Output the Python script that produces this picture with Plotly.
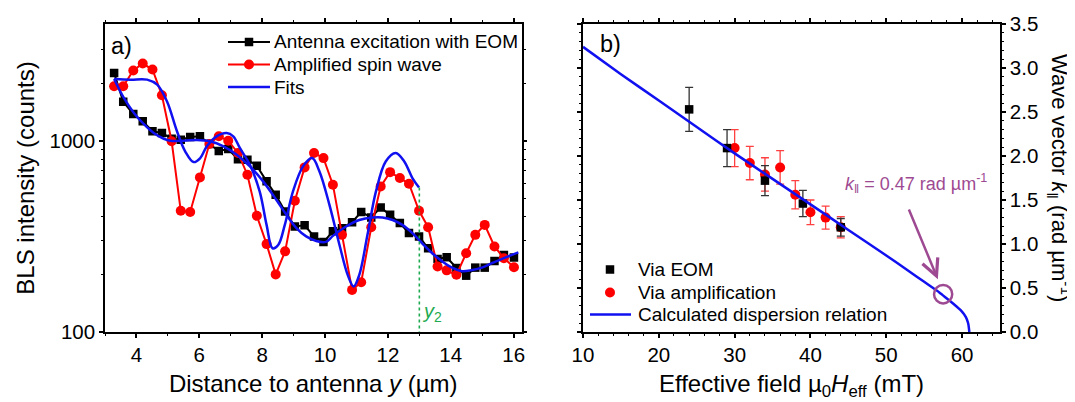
import math
import plotly.graph_objects as go

# ---------------- Panel a) data ----------------
y_pos = [3.29, 3.58, 3.90, 4.20, 4.51, 4.81, 5.12, 5.41, 5.71, 6.02, 6.32, 6.62, 6.92, 7.23,
         7.53, 7.83, 8.14, 8.43, 8.73, 9.04, 9.35, 9.65, 9.95, 10.25, 10.54, 10.86, 11.15,
         11.47, 11.77, 12.07, 12.38, 12.67, 12.99, 13.28, 13.58, 13.87, 14.18, 14.49, 14.78,
         15.08, 15.39, 15.69, 16.01]
eom_counts = [2258, 1597, 1380, 1263, 1120, 1097, 1024, 1012, 1046, 1054, 961, 883, 905, 800,
              796, 740, 613, 521, 427, 356, 361, 316, 295, 336, 349, 375, 424,
              397, 448, 410, 371, 329, 316, 274, 241, 246, 216, 197, 217,
              217, 235, 253, 245]
amp_counts = [1927, 1927, 2327, 2531, 2355, 1729, 993, 430, 424, 643, 961, 1054, 1000, 863,
              664, 405, 288, 200, 264, 485, 725, 863, 811, 589, 322, 166, 182,
              353, 577, 685, 638, 596, 430, 353, 220, 210, 199, 258, 322,
              363, 280, 243, 218]

fit_amp_y = [3.29, 3.81, 4.34, 4.66, 4.97, 5.29, 5.55, 5.82, 6.03, 6.24, 6.55, 6.87, 7.08, 7.29,
             7.61, 7.92, 8.14, 8.33, 8.51, 8.72, 8.98, 9.30, 9.59, 9.82, 10.14, 10.46, 10.72,
             10.91, 11.09, 11.35, 11.62, 11.93, 12.25, 12.52, 12.78, 12.99]
fit_amp_c = [2103, 2085, 2085, 1963, 1607, 1120, 880, 773, 811, 935, 1054, 1097, 1054, 916,
             748, 543, 363, 274, 285, 363, 543, 734, 811, 692, 462, 285, 199,
             173, 199, 322, 543, 779, 863, 779, 638, 570]

fit_eom_y = [3.29, 3.60, 3.92, 4.23, 4.55, 4.87, 5.08, 5.50, 5.92, 6.34, 6.77, 7.19, 7.61, 8.03,
             8.45, 8.77, 9.09, 9.40, 9.72, 10.03, 10.25, 10.67, 11.09, 11.51, 11.83, 12.15,
             12.46, 12.78, 13.09, 13.41, 13.73, 14.04, 14.36, 14.68, 14.99, 15.31, 15.73, 16.15]
fit_eom_c = [2103, 1674, 1396, 1223, 1097, 1024, 1000, 1000, 1008, 993, 935, 845, 734, 613,
             491, 410, 349, 316, 299, 296, 318, 356, 385, 397, 397, 385,
             363, 329, 291, 258, 234, 217, 208, 211, 217, 229, 245, 261]

y2_pos = [13.0, 13.0]
y2_counts = [570, 100]

left_yticks = [100, 1000]
left_yticktext = ["100", "1000"]
left_yminor = [200, 300, 400, 500, 600, 700, 800, 900, 2000, 3000]

legend_a_labels = ["Antenna excitation with EOM", "Amplified spin wave", "Fits"]
legend_b_labels = ["Via EOM", "Via amplification", "Calculated dispersion relation"]

# ---------------- Panel b) data ----------------
H_eom = [24, 29, 34, 39, 44]
k_eom = [2.53, 2.09, 1.72, 1.46, 1.19]
err_eom = [0.25, 0.21, 0.17, 0.15, 0.10]

H_amp = [30, 32, 34, 36, 38, 40, 42, 44]
k_amp = [2.09, 1.92, 1.79, 1.87, 1.56, 1.36, 1.30, 1.19]
err_amp = [0.21, 0.19, 0.19, 0.19, 0.16, 0.14, 0.13, 0.12]

H_calc = [10, 15, 20, 25, 30, 35, 40, 45, 50, 53, 55, 57, 58, 59, 59.9, 60.5, 60.8, 60.92, 60.95]
k_calc = [3.24, 2.93, 2.63, 2.33, 2.03, 1.74, 1.45, 1.16, 0.87, 0.69, 0.57, 0.45, 0.38, 0.31,
          0.24, 0.17, 0.10, 0.03, 0.0]

mark_H = 57.5
mark_k = 0.43

FONT = "Liberation Sans, Arial, sans-serif"
BLUE = "#1010F0"
RED = "#FF0000"
PURPLE = "#9E4A92"
GREEN = "#1EAA50"

W, H = 1075, 402
ML, MR, MT, MB = 97, 83, 16, 78
PW = W - ML - MR
PH = H - MT - MB


def px2x(px):
    return (px - ML) / PW


def py2y(py):
    return 1 - (py - MT) / PH


fig = go.Figure()

# Panel a traces
fig.add_trace(go.Scatter(x=y_pos, y=eom_counts, mode="lines+markers", name=legend_a_labels[0],
                         line=dict(color="black", width=2), marker=dict(symbol="square", size=8.5, color="black"),
                         xaxis="x", yaxis="y"))
fig.add_trace(go.Scatter(x=y_pos, y=amp_counts, mode="lines+markers", name=legend_a_labels[1],
                         line=dict(color=RED, width=2), marker=dict(symbol="circle", size=10, color=RED),
                         xaxis="x", yaxis="y"))
fig.add_trace(go.Scatter(x=fit_eom_y, y=fit_eom_c, mode="lines", name=legend_a_labels[2],
                         line=dict(color=BLUE, width=2.5, shape="spline", smoothing=1.0),
                         xaxis="x", yaxis="y"))
fig.add_trace(go.Scatter(x=fit_amp_y, y=fit_amp_c, mode="lines", name=legend_a_labels[2],
                         line=dict(color=BLUE, width=2.5, shape="spline", smoothing=1.0),
                         xaxis="x", yaxis="y"))
fig.add_trace(go.Scatter(x=y2_pos, y=y2_counts, mode="lines", name="y2",
                         line=dict(color=GREEN, width=1.6, dash="dot"), xaxis="x", yaxis="y"))

# Panel b traces
fig.add_trace(go.Scatter(x=H_amp, y=k_amp, mode="markers", name=legend_b_labels[1],
                         marker=dict(symbol="circle", size=10, color=RED),
                         error_y=dict(type="data", array=err_amp, color="#FF4040", thickness=1.3, width=4),
                         xaxis="x2", yaxis="y2"))
fig.add_trace(go.Scatter(x=H_eom, y=k_eom, mode="markers", name=legend_b_labels[0],
                         marker=dict(symbol="square", size=8.5, color="black"),
                         error_y=dict(type="data", array=err_eom, color="#333333", thickness=1.3, width=4),
                         xaxis="x2", yaxis="y2"))
fig.add_trace(go.Scatter(x=H_calc, y=k_calc, mode="lines", name=legend_b_labels[2],
                         line=dict(color=BLUE, width=2.5, shape="spline", smoothing=0.6),
                         xaxis="x2", yaxis="y2"))

axis_common = dict(showgrid=False, zeroline=False, showline=True, linecolor="black", linewidth=1.5,
                   ticks="outside", ticklen=4, tickwidth=1.5, tickcolor="black", mirror="allticks",
                   automargin=False, tickfont=dict(family=FONT, size=20.5, color="black"))
minor_common = dict(ticks="outside", ticklen=2.5, tickwidth=1.2, tickcolor="black")

fig.update_layout(
    width=W, height=H,
    margin=dict(l=ML, r=MR, t=MT, b=MB),
    paper_bgcolor="white", plot_bgcolor="white",
    font=dict(family=FONT, color="black"),
    showlegend=False,
    xaxis=dict(domain=[0, px2x(513.5)], range=[3, 16.25], dtick=2, tick0=0,
               minor=dict(dtick=1, tick0=0, **minor_common),
               title=dict(text="Distance to antenna <i>y</i> (µm)", font=dict(family=FONT, size=24), standoff=10),
               anchor="y", **axis_common),
    yaxis=dict(domain=[0, 1], type="log", range=[2, 3.61], tickmode="array",
               tickvals=left_yticks, ticktext=left_yticktext,
               minor=dict(tickmode="array", tickvals=left_yminor, **minor_common),
               title=dict(text="BLS intensity (counts)", font=dict(family=FONT, size=24), standoff=8),
               anchor="x", **axis_common),
    xaxis2=dict(domain=[px2x(575), 1], range=[10, 65], dtick=10, tick0=0,
                minor=dict(dtick=2, tick0=0, **minor_common),
                title=dict(text="Effective field µ<sub>0</sub><i>H</i><sub>eff</sub> (mT)",
                           font=dict(family=FONT, size=24), standoff=10),
                anchor="y2", **axis_common),
    yaxis2=dict(domain=[0, 1], range=[0, 3.5], dtick=0.5, tick0=0, tickformat=".1f", side="right",
                minor=dict(dtick=0.1, tick0=0, **minor_common),
                anchor="x2", **axis_common),
)

annotations = [
    dict(text="a)", x=px2x(101), y=py2y(23), xref="paper", yref="paper", xanchor="left", yanchor="top",
         showarrow=False, font=dict(family=FONT, size=23.5)),
    dict(text="b)", x=px2x(590), y=py2y(21), xref="paper", yref="paper", xanchor="left", yanchor="top",
         showarrow=False, font=dict(family=FONT, size=23.5)),
    dict(text="<i>y</i><sub>2</sub>", x=13.02, y=math.log10(126), xref="x", yref="y",
         xanchor="left", yanchor="middle", showarrow=False, font=dict(family=FONT, size=20, color=GREEN)),
    dict(text="<i>k</i><sub>‖</sub> = 0.47 rad µm<sup>-1</sup>", x=44.3, y=1.69, xref="x2", yref="y2",
         xanchor="left", yanchor="middle", showarrow=False, font=dict(family=FONT, size=18, color=PURPLE)),
    dict(text="", x=56.8, y=0.60, ax=52.9, ay=1.41, xref="x2", yref="y2", axref="x2", ayref="y2",
         showarrow=True, arrowhead=5, arrowsize=1.3, arrowwidth=2.5, arrowcolor=PURPLE),
    dict(text="Wave vector <i>k</i><sub>‖</sub> (rad µm<sup>-1</sup>)", x=px2x(1052), y=py2y(170),
         xref="paper", yref="paper", xanchor="center", yanchor="middle", textangle=90, showarrow=False,
         font=dict(family=FONT, size=22)),
]

shapes = [
    dict(type="circle", xref="x2", yref="y2", x0=mark_H - 1.2, x1=mark_H + 1.2,
         y0=mark_k - 0.105, y1=mark_k + 0.105, line=dict(color=PURPLE, width=2.5)),
]


def add_legend(labels, styles, line_x0, line_x1, marker_x, text_x, rows_y):
    for label, (color, symbol, with_line, size), ry in zip(labels, styles, rows_y):
        yy = py2y(ry)
        if with_line:
            shapes.append(dict(type="line", xref="paper", yref="paper", x0=px2x(line_x0), x1=px2x(line_x1),
                               y0=yy, y1=yy, line=dict(color=color, width=2.5 if color == BLUE else 2)))
        if symbol is not None:
            hx = size / 2 / PW
            hy = size / 2 / PH
            shapes.append(dict(type="rect" if symbol == "square" else "circle", xref="paper", yref="paper",
                               x0=px2x(marker_x) - hx, x1=px2x(marker_x) + hx, y0=yy - hy, y1=yy + hy,
                               fillcolor=color, line=dict(color=color, width=0)))
        annotations.append(dict(text=label, x=px2x(text_x), y=yy, xref="paper", yref="paper",
                                xanchor="left", yanchor="middle", showarrow=False,
                                font=dict(family=FONT, size=19, color="black")))


add_legend(legend_a_labels,
           [("black", "square", True, 8.5), (RED, "circle", True, 10), (BLUE, None, True, 0)],
           220, 262, 241, 264, [34, 56.5, 79])
add_legend(legend_b_labels,
           [("black", "square", False, 8.5), (RED, "circle", False, 10), (BLUE, None, True, 0)],
           582, 623, 602, 628, [261.5, 284.5, 306.5])

fig.update_layout(annotations=annotations, shapes=shapes)

fig.write_html("out.html")
